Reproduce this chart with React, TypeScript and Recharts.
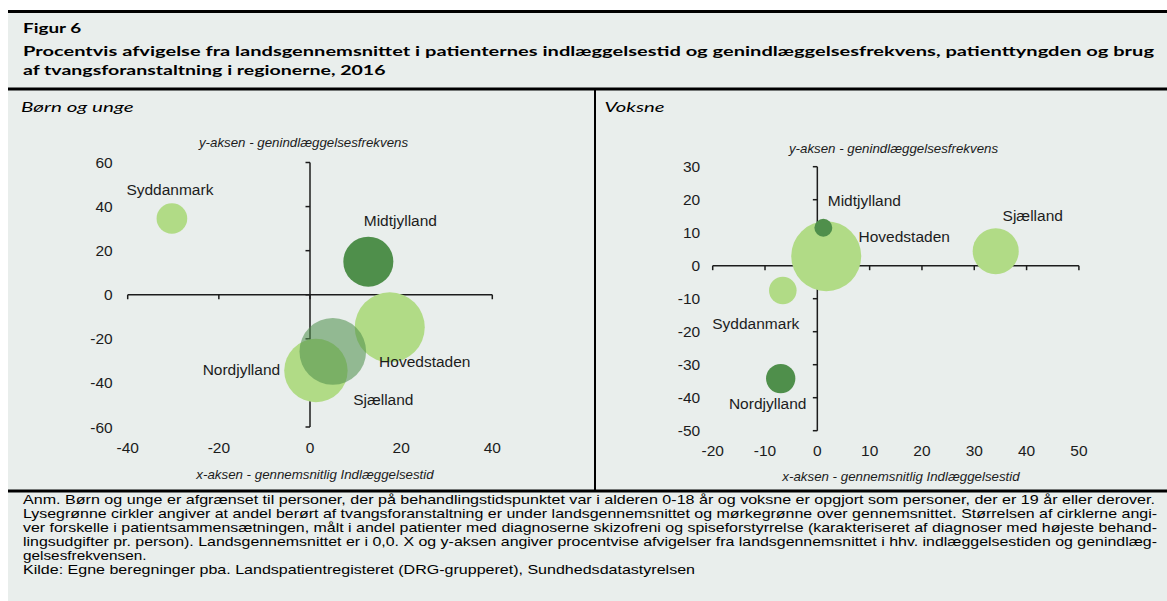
import React from "react";
import {
  ScatterChart,
  Scatter,
  XAxis,
  YAxis,
  ZAxis,
  ReferenceLine,
  ReferenceDot,
  LabelList,
} from "recharts";

// Børn og unge — x: indlæggelsestid, y: genindlæggelsesfrekvens (% afvigelse), z: patienttyngde
const BOERN_REGIONS = ["Syddanmark", "Hovedstaden", "Nordjylland", "Midtjylland", "Sjælland"];
const BOERN_X = [-30.3, 17.5, 1.3, 12.8, 5.0];
const BOERN_Y = [34.6, -14.8, -34.4, 15.0, -25.7];
const BOERN_SIZE = [4.7, 24.5, 20.1, 12.5, 22.2];
const BOERN_OVER = [false, false, false, true, true]; // tvang over landsgennemsnittet
const BOERN_X_TICKS = [-40, -20, 0, 20, 40];
const BOERN_Y_TICKS = [-60, -40, -20, 0, 20, 40, 60];

// Voksne
const VOKSNE_REGIONS = ["Hovedstaden", "Sjælland", "Syddanmark", "Midtjylland", "Nordjylland"];
const VOKSNE_X = [1.7, 34.1, -6.6, 1.15, -7.0];
const VOKSNE_Y = [2.9, 4.4, -7.5, 11.5, -34.2];
const VOKSNE_SIZE = [24.5, 10.6, 3.8, 1.6, 4.3];
const VOKSNE_OVER = [false, false, false, true, true];
const VOKSNE_X_TICKS = [-20, -10, 0, 10, 20, 30, 40, 50];
const VOKSNE_Y_TICKS = [-50, -40, -30, -20, -10, 0, 10, 20, 30];

const TITLE = "Figur 6";
const SUBTITLE_1 =
  "Procentvis afvigelse fra landsgennemsnittet i patienternes indlæggelsestid og genindlæggelsesfrekvens, patienttyngden og brug";
const SUBTITLE_2 = "af tvangsforanstaltning i regionerne, 2016";
const Y_TITLE = "y-aksen - genindlæggelsesfrekvens";
const X_TITLE = "x-aksen - gennemsnitlig Indlæggelsestid";
const NOTES = [
  "Anm. Børn og unge er afgrænset til personer, der på behandlingstidspunktet var i alderen 0-18 år og voksne er opgjort som personer, der er 19 år eller derover.",
  "Lysegrønne cirkler angiver at andel berørt af tvangsforanstaltning er under landsgennemsnittet og mørkegrønne over gennemsnittet. Størrelsen af cirklerne angi-",
  "ver forskelle i patientsammensætningen, målt i andel patienter med diagnoserne skizofreni og spiseforstyrrelse (karakteriseret af diagnoser med højeste behand-",
  "lingsudgifter pr. person). Landsgennemsnittet er i 0,0. X og y-aksen angiver procentvise afvigelser fra landsgennemsnittet i hhv. indlæggelsestiden og genindlæg-",
  "gelsesfrekvensen.",
  "Kilde: Egne beregninger pba. Landspatientregisteret (DRG-grupperet), Sundhedsdatastyrelsen",
];

// styling
const BG = "#e9eeec";
const LIGHT = "#b1db86";
const DARK = "#4f8f4b";
const INK = "#1c1c1c";
const FONT = "'Liberation Sans', Arial, sans-serif";
const TITLE_FONT = "Lato, 'Open Sans', sans-serif";
const MAX_R = 35;
const NOTE_WIDTHS = [1132, 1134, 1134, 1134, 123.5, 672];
const NOTE_BASELINES = [504, 518, 532, 546, 560, 574];

const BOERN_LABEL_OFFSETS: Record<string, [number, number]> = {
  Syddanmark: [-2, -29],
  Midtjylland: [32, -41],
  Hovedstaden: [35, 34],
  Nordjylland: [-74.5, -1],
  Sjælland: [50.5, 48],
};
const VOKSNE_LABEL_OFFSETS: Record<string, [number, number]> = {
  Midtjylland: [41, -27],
  Hovedstaden: [78, -20],
  Sjælland: [37, -36],
  Syddanmark: [-27, 33],
  Nordjylland: [-13, 25],
};
const BOERN_OPACITY: Record<string, number> = { Sjælland: 0.56 };

type Point = { name: string; x: number; y: number; z: number; over: boolean };

function toPoints(names: string[], xs: number[], ys: number[], zs: number[], over: boolean[]): Point[] {
  return names.map((name, i) => ({ name, x: xs[i], y: ys[i], z: zs[i], over: over[i] }));
}

function Bubble(props: any) {
  const { cx, cy, payload, opacity } = props;
  const r = props.width ? props.width / 2 : Math.sqrt((props.size ?? 0) / Math.PI);
  const name = payload?.name;
  return (
    <circle
      cx={cx}
      cy={cy}
      r={r}
      fill={payload?.over ? DARK : LIGHT}
      fillOpacity={opacity?.[name] ?? 1}
    />
  );
}

function BubbleLabel(props: any) {
  const vb = props.viewBox ?? props;
  const cx = Number(vb.x) + Number(vb.width ?? 0) / 2;
  const cy = Number(vb.y) + Number(vb.height ?? 0) / 2;
  const name = String(props.value);
  const [dx, dy] = props.offsets[name] ?? [0, 0];
  return (
    <text
      x={cx + dx}
      y={cy + dy}
      textAnchor="middle"
      dominantBaseline="central"
      fontFamily={FONT}
      fontSize={15.5}
      fill={INK}
    >
      {name}
    </text>
  );
}

function BubblePanel({
  points,
  xTicks,
  yTicks,
  labelOffsets,
  opacity,
  width,
  height,
  margin,
  xTickGap,
  yTickGap,
}: any) {
  const maxZ = Math.max(...points.map((p: Point) => p.z));
  const tick = { fontSize: 15.5, fill: INK, fontFamily: FONT };
  return (
    <ScatterChart width={width} height={height} margin={margin}>
      <XAxis
        type="number"
        dataKey="x"
        domain={[xTicks[0], xTicks[xTicks.length - 1]]}
        ticks={xTicks}
        interval={0}
        axisLine={false}
        tickLine={false}
        tickSize={0}
        tickMargin={xTickGap}
        tick={tick}
        height={30}
      />
      <YAxis
        type="number"
        dataKey="y"
        domain={[yTicks[0], yTicks[yTicks.length - 1]]}
        ticks={yTicks}
        interval={0}
        axisLine={false}
        tickLine={false}
        tickSize={0}
        tickMargin={yTickGap}
        tick={tick}
        width={60}
      />
      <ZAxis type="number" dataKey="z" domain={[0, maxZ]} range={[0, Math.PI * MAX_R * MAX_R]} />
      <ReferenceLine x={0} stroke={INK} strokeWidth={1.5} />
      <ReferenceLine y={0} stroke={INK} strokeWidth={1.5} />
      {xTicks.map((t: number) => (
        <ReferenceDot
          key={"xt" + t}
          x={t}
          y={0}
          r={3}
          ifOverflow="visible"
          shape={(p: any) => (
            <line x1={p.cx} y1={p.cy} x2={p.cx} y2={p.cy + 4.5} stroke={INK} strokeWidth={1.5} />
          )}
        />
      ))}
      {yTicks.map((t: number) => (
        <ReferenceDot
          key={"yt" + t}
          x={0}
          y={t}
          r={3}
          ifOverflow="visible"
          shape={(p: any) => (
            <line x1={p.cx - 4.5} y1={p.cy} x2={p.cx} y2={p.cy} stroke={INK} strokeWidth={1.5} />
          )}
        />
      ))}
      <Scatter
        data={points}
        isAnimationActive={false}
        shape={(p: any) => <Bubble {...p} opacity={opacity} />}
      >
        <LabelList
          dataKey="name"
          content={(p: any) => <BubbleLabel {...p} offsets={labelOffsets} />}
        />
      </Scatter>
    </ScatterChart>
  );
}

export default function App() {
  const boern = toPoints(BOERN_REGIONS, BOERN_X, BOERN_Y, BOERN_SIZE, BOERN_OVER);
  const voksne = toPoints(VOKSNE_REGIONS, VOKSNE_X, VOKSNE_Y, VOKSNE_SIZE, VOKSNE_OVER);

  return (
    <div
      style={{
        position: "absolute",
        left: 0,
        top: 0,
        width: 1167,
        height: 601,
        background: "#fff",
        overflow: "hidden",
      }}
    >
      <svg width={1167} height={601} style={{ position: "absolute", left: 0, top: 0 }}>
        <rect x={8} y={10} width={1159} height={591} fill={BG} />
        <rect x={8} y={10} width={1159} height={3} fill="#000" />
        <rect x={8} y={87.5} width={1159} height={3} fill="#000" />
        <rect x={8} y={489.5} width={1159} height={3} fill="#000" />
        <rect x={594} y={90} width={2} height={400} fill="#000" />

        <g fontFamily={TITLE_FONT} fontWeight={700} fontSize={14} fill="#000">
          <text x={23} y={33.3} textLength={58.3} lengthAdjust="spacingAndGlyphs">
            {TITLE}
          </text>
          <text x={23} y={56} textLength={1131} lengthAdjust="spacingAndGlyphs">
            {SUBTITLE_1}
          </text>
          <text x={23} y={75} textLength={362.5} lengthAdjust="spacingAndGlyphs">
            {SUBTITLE_2}
          </text>
        </g>
        <g fontFamily={TITLE_FONT} fontStyle="italic" fontSize={14} fill="#000">
          <text x={21} y={111.5} textLength={112.5} lengthAdjust="spacingAndGlyphs">
            Børn og unge
          </text>
          <text x={604.5} y={111.5} textLength={60} lengthAdjust="spacingAndGlyphs">
            Voksne
          </text>
        </g>

        <g fontFamily={FONT} fontStyle="italic" fontSize={13.3} fill={INK} textAnchor="middle">
          <text x={303.5} y={146.5}>{Y_TITLE}</text>
          <text x={315} y={478.5}>{X_TITLE}</text>
          <text x={893.5} y={152.5}>{Y_TITLE}</text>
          <text x={901} y={481}>{X_TITLE}</text>
        </g>

        <g fontFamily={FONT} fontSize={12.8} fill="#000">
          {NOTES.map((line, i) => (
            <text
              key={i}
              x={23}
              y={NOTE_BASELINES[i]}
              textLength={NOTE_WIDTHS[i]}
              lengthAdjust="spacingAndGlyphs"
            >
              {line}
            </text>
          ))}
        </g>
      </svg>

      <div style={{ position: "absolute", left: 0, top: 120 }}>
        <BubblePanel
          points={boern}
          xTicks={BOERN_X_TICKS}
          yTicks={BOERN_Y_TICKS}
          labelOffsets={BOERN_LABEL_OFFSETS}
          opacity={BOERN_OPACITY}
          width={596}
          height={370}
          margin={{ top: 42.5, right: 103.7, bottom: 33, left: 67.7 }}
          xTickGap={14.5}
          yTickGap={15}
        />
      </div>
      <div style={{ position: "absolute", left: 596, top: 120 }}>
        <BubblePanel
          points={voksne}
          xTicks={VOKSNE_X_TICKS}
          yTicks={VOKSNE_Y_TICKS}
          labelOffsets={VOKSNE_LABEL_OFFSETS}
          opacity={{}}
          width={571}
          height={370}
          margin={{ top: 46.7, right: 88.1, bottom: 29.3, left: 56.7 }}
          xTickGap={13.8}
          yTickGap={12.5}
        />
      </div>
    </div>
  );
}
